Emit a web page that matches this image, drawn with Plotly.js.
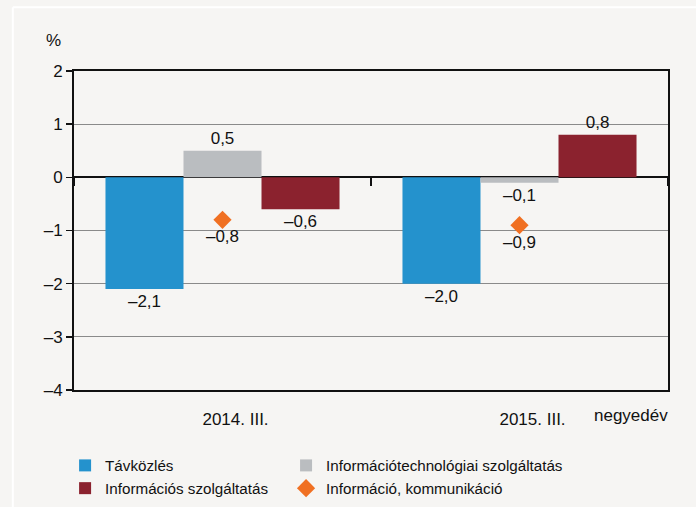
<!DOCTYPE html>
<html>
<head>
<meta charset="utf-8">
<script src="https://cdn.plot.ly/plotly-3.0.1.min.js"></script>
<style>html,body{margin:0;padding:0;background:#f6f5f3;}#chart{width:696px;height:507px;}</style>
</head>
<body>
<div id="chart"></div>
<script>
var categories = ['2014. III.', '2015. III.'];
var tavkozles = [-2.1, -2.0];
var itSzolg = [0.5, -0.1];
var infoSzolg = [-0.6, 0.8];
var infoKomm = [-0.8, -0.9];
var yTicks = [-4, -3, -2, -1, 0, 1, 2];
var yTickText = ['–4', '–3', '–2', '–1', '0', '1', '2'];
var names = ['Távközlés', 'Információtechnológiai szolgáltatás', 'Információs szolgáltatás', 'Információ, kommunikáció'];

function fmt(v) { return (v < 0 ? '–' : '') + Math.abs(v).toFixed(1).replace('.', ','); }

var font = {family: 'Liberation Sans, Arial, sans-serif', size: 17, color: '#111'};
var legendFont = {family: 'Liberation Sans, Arial, sans-serif', size: 15.2, color: '#111'};

var traces = [
  {type: 'bar', name: names[0], x: categories, y: tavkozles, marker: {color: '#2492cd'},
   text: tavkozles.map(fmt), textposition: 'outside', textfont: font, cliponaxis: false,
   legend: 'legend', legendgroup: 'a'},
  {type: 'bar', name: names[1], x: categories, y: itSzolg, marker: {color: '#babdc0'},
   text: itSzolg.map(fmt), textposition: 'outside', textfont: font, cliponaxis: false,
   legend: 'legend2', legendgroup: 'b'},
  {type: 'bar', name: names[2], x: categories, y: infoSzolg, marker: {color: '#8b222e'},
   text: infoSzolg.map(fmt), textposition: 'outside', textfont: font, cliponaxis: false,
   legend: 'legend', legendgroup: 'c'},
  {type: 'scatter', mode: 'markers+text', name: names[3], x: categories, y: infoKomm,
   marker: {symbol: 'diamond', size: 14, color: '#f07022'},
   text: infoKomm.map(fmt), textposition: 'bottom center', textfont: font, cliponaxis: false,
   legend: 'legend2', legendgroup: 'd'},
  {type: 'scatter', x: categories, y: [0, 0], xaxis: 'x2', yaxis: 'y', mode: 'none',
   showlegend: false, hoverinfo: 'skip'}
];

var legendBase = {orientation: 'v', xanchor: 'left', y: -0.185, yanchor: 'top',
  traceorder: 'normal', font: legendFont, bgcolor: 'rgba(0,0,0,0)', itemwidth: 30, tracegroupgap: 6};

var layout = {
  width: 696, height: 507,
  paper_bgcolor: '#f6f5f3', plot_bgcolor: '#f6f5f3',
  font: font,
  margin: {l: 74, r: 28, t: 71, b: 117, autoexpand: false},
  barmode: 'group', bargap: 0.212, bargroupgap: 0,
  showlegend: true,
  legend: Object.assign({}, legendBase, {x: -0.015}),
  legend2: Object.assign({}, legendBase, {x: 0.357}),
  xaxis: {type: 'category', showline: true, linecolor: '#111', linewidth: 2, mirror: true,
          ticks: '', showgrid: false, zeroline: false, tickfont: font, ticklabelshift: 13,
          ticklabelstandoff: 13},
  xaxis2: {type: 'category', overlaying: 'x', anchor: 'free', position: 2/3, side: 'bottom',
           showline: false, showticklabels: false, ticks: 'outside', tickson: 'boundaries',
           ticklen: 8, tickwidth: 1.5, tickcolor: '#111', showgrid: false, zeroline: false,
           matches: 'x'},
  yaxis: {range: [-4, 2], tickvals: yTicks, ticktext: yTickText, ticks: 'outside', ticklen: 6,
          tickcolor: '#111', tickwidth: 1.5, showline: true, linecolor: '#111', linewidth: 2, mirror: true,
          showgrid: true, gridcolor: '#8a8a8a', gridwidth: 1, zeroline: true, zerolinecolor: '#111',
          zerolinewidth: 2, tickfont: font},
  annotations: [
    {text: '%', xref: 'paper', yref: 'paper', x: -0.034, y: 1.097, xanchor: 'center', yanchor: 'middle',
     showarrow: false, font: font},
    {text: 'negyedév', xref: 'paper', yref: 'paper', x: 1.003, y: -0.08, xanchor: 'right', yanchor: 'middle',
     showarrow: false, font: font}
  ],
  shapes: [
    {type: 'line', xref: 'paper', yref: 'paper', x0: -0.103, x1: 1.06, y0: 1.2, y1: 1.2,
     line: {color: '#ffffff', width: 2}, layer: 'below'},
    {type: 'line', xref: 'paper', yref: 'paper', x0: -0.103, x1: -0.103, y0: 1.2, y1: -0.4,
     line: {color: '#ffffff', width: 2}, layer: 'below'}
  ]
};

Plotly.newPlot('chart', traces, layout, {displayModeBar: false, staticPlot: true});
</script>
</body>
</html>
